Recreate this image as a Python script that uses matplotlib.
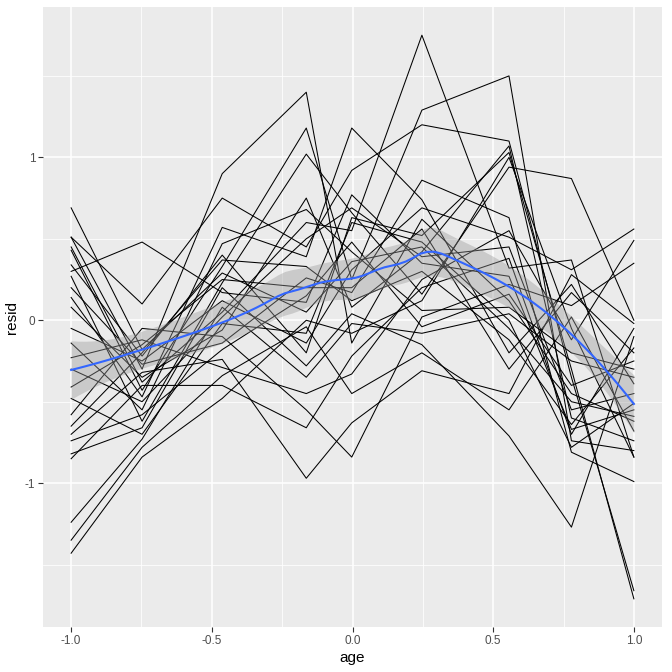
import numpy as np
import matplotlib
matplotlib.use("Agg")
import matplotlib.pyplot as plt
from matplotlib.ticker import FixedLocator

plt.rcParams['font.family'] = ['Liberation Sans', 'DejaVu Sans']

# measurement ages (standardised)
ages = [-1.0, -0.7479, -0.4630, -0.1643, -0.0027, 0.2466, 0.5562, 0.7781, 1.0]

# residuals at each age, one value per subject (26 subjects, same order in every list)
res_a1 = [0.69, 0.51, 0.51, 0.45, 0.43, 0.34, 0.30, 0.27, 0.20, 0.14, 0.08, -0.05, -0.14,
          -0.23, -0.30, -0.41, -0.48, -0.58, -0.65, -0.70, -0.74, -0.82, -0.85, -1.24, -1.35, -1.43]
res_a2 = [-0.18, -0.30, 0.10, -0.38, -0.43, -0.22, 0.48, -0.62, -0.27, -0.47, -0.35, -0.25, -0.55,
          -0.12, -0.50, -0.15, -0.70, -0.05, -0.20, -0.32, -0.58, -0.66, -0.40, -0.73, -0.78, -0.84]
res_a3 = [0.29, 0.90, 0.75, 0.05, 0.33, 0.40, 0.17, 0.23, -0.14, 0.57, -0.06, 0.12, 0.47,
          -0.29, 0.02, 0.25, -0.02, -0.10, 0.37, -0.24, -0.18, 0.20, -0.40, 0.08, -0.34, -0.48]
res_a4 = [0.05, 1.40, 0.45, 0.60, 1.18, -0.20, 0.11, 1.02, 0.26, 0.39, 0.75, -0.14, 0.68,
          -0.45, 0.50, 0.20, -0.08, -0.55, 0.33, -0.97, 0.15, -0.28, -0.66, -0.35, -0.04, 0.00]
res_a5 = [0.36, -0.14, 0.92, 0.55, 0.25, 0.63, 0.77, 0.66, 0.17, 1.18, 0.08, 0.31, 0.42,
          -0.33, 0.69, 0.20, 0.60, -0.84, 0.12, -0.63, 0.48, 0.04, -0.22, -0.02, -0.45, -0.08]
res_a6 = [0.45, 0.62, 1.20, 1.75, 1.29, 0.52, 0.35, 0.16, 0.86, 0.74, 0.42, 0.69, 0.06,
          0.25, 0.39, 0.56, 0.48, 0.02, 0.30, -0.31, -0.04, -0.15, 0.20, -0.08, -0.20, 0.12]
res_a7 = [-0.05, 0.12, 1.10, 0.32, 1.50, 1.03, 0.27, 0.94, 0.63, -0.20, 1.07, 0.51, 0.08,
          0.55, 0.45, -0.30, 0.00, 0.22, -0.12, -0.45, 0.16, -0.71, 0.38, 0.04, -0.55, 1.00]
res_a8 = [-0.50, -0.45, -0.35, 0.37, -0.74, -0.30, -0.67, 0.87, -0.81, 0.22, -0.60, 0.31, -0.20,
          -0.12, -0.55, 0.17, -0.78, 0.09, -0.64, 0.28, -0.40, -1.27, -0.70, -0.25, 0.02, -0.05]
res_a9 = [-0.59, -0.62, -1.66, -0.84, -0.80, -1.71, -0.55, 0.00, -0.99, -0.39, -0.74, 0.56, -0.30,
          0.49, -0.45, -0.20, -0.51, 0.35, -0.17, -0.02, -0.25, -0.10, -0.05, -0.35, -0.68, -0.84]

cols = [res_a1, res_a2, res_a3, res_a4, res_a5, res_a6, res_a7, res_a8, res_a9]
R = np.array(cols).T  # subjects x ages
x_arr = np.array(ages)

fig = plt.figure(figsize=(6.72, 6.72), dpi=100)
ax = fig.add_axes([43/672, 45/672, 619/672, 620/672])
ax.set_facecolor('#EBEBEB')
for s in ax.spines.values():
    s.set_visible(False)

for row in R:
    ax.plot(x_arr, row, color='black', lw=0.75, zorder=3)

# loess smooth (degree 2, span 0.75, tricube) with 95% band
X = np.repeat(x_arr[None, :], R.shape[0], axis=0).ravel()
Y = R.ravel()
n = len(X)
q = int(np.floor(n * 0.75))

def loess_weights(x0):
    d = np.abs(X - x0)
    h = np.sort(d)[q - 1]
    u = np.clip(d / h, 0, 1)
    return (1 - u ** 3) ** 3

def smoother_row(x0):
    w = loess_weights(x0)
    B = np.column_stack([np.ones(n), X - x0, (X - x0) ** 2])
    BW = B * w[:, None]
    M = np.linalg.pinv(B.T @ BW) @ BW.T
    return M[0]

L = np.array([smoother_row(xi) for xi in X])
fitted = L @ Y
resid = Y - fitted
I_L = np.eye(n) - L
d1 = np.trace(I_L.T @ I_L)
sigma = np.sqrt(np.sum(resid ** 2) / d1)
grid = np.linspace(-1.0, 1.0, 80)
fit_g, se_g = [], []
for g in grid:
    l = smoother_row(g)
    fit_g.append(l @ Y)
    se_g.append(sigma * np.sqrt(np.sum(l ** 2)))
fit_g = np.array(fit_g)
se_g = np.array(se_g)
tval = 1.97
ax.fill_between(grid, fit_g - tval * se_g, fit_g + tval * se_g, color='#999999', alpha=0.4,
                lw=0, zorder=4)
ax.plot(grid, fit_g, color='#3366FF', lw=1.5, zorder=5)

ax.set_xlim(-1.1, 1.1)
ax.set_ylim(-1.883, 1.923)
ax.xaxis.set_major_locator(FixedLocator([-1.0, -0.5, 0.0, 0.5, 1.0]))
ax.xaxis.set_minor_locator(FixedLocator([-0.75, -0.25, 0.25, 0.75]))
ax.yaxis.set_major_locator(FixedLocator([-1, 0, 1]))
ax.yaxis.set_minor_locator(FixedLocator([-1.5, -0.5, 0.5, 1.5]))
ax.set_xticklabels(['-1.0', '-0.5', '0.0', '0.5', '1.0'])
ax.set_yticklabels(['-1', '0', '1'])
ax.grid(which='major', color='white', lw=1.1, zorder=0)
ax.grid(which='minor', color='white', lw=0.55, zorder=0)
ax.set_axisbelow(True)
ax.tick_params(which='major', length=3.5, width=0.8, color='#333333', labelcolor='#4D4D4D',
               labelsize=8.5, pad=2)
ax.tick_params(which='minor', length=0)
ax.set_xlabel('age', fontsize=11, color='black', labelpad=3)
ax.set_ylabel('resid', fontsize=11, color='black', labelpad=4)

fig.savefig('out.png', dpi=100, facecolor='white')
